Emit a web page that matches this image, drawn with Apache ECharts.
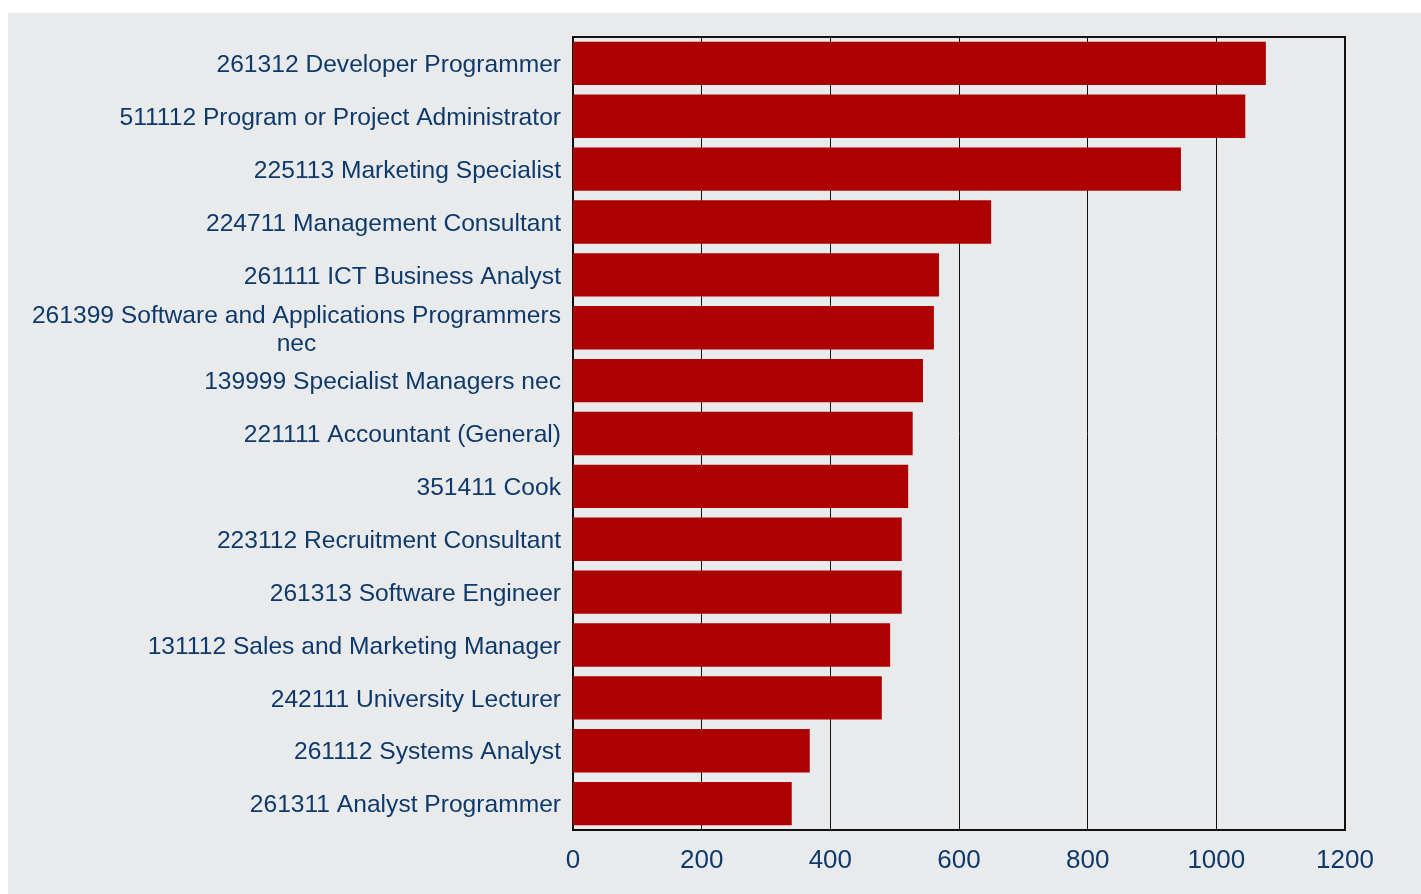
<!DOCTYPE html>
<html>
<head>
<meta charset="utf-8">
<script src="https://cdn.jsdelivr.net/npm/echarts@6/dist/echarts.min.js"></script>
<style>
  html, body { margin: 0; padding: 0; background: #ffffff; }
  #chart {
    position: absolute;
    left: 8px;
    top: 13px;
    width: 1413px;
    height: 881px;
    background: #e9eaec;
  }
</style>
</head>
<body>
<div id="chart"></div>
<script>
  // occupations, top to bottom
  const occupations = [
    '261312 Developer Programmer',
    '511112 Program or Project Administrator',
    '225113 Marketing Specialist',
    '224711 Management Consultant',
    '261111 ICT Business Analyst',
    '261399 Software and Applications Programmers\nnec',
    '139999 Specialist Managers nec',
    '221111 Accountant (General)',
    '351411 Cook',
    '223112 Recruitment Consultant',
    '261313 Software Engineer',
    '131112 Sales and Marketing Manager',
    '242111 University Lecturer',
    '261112 Systems Analyst',
    '261311 Analyst Programmer'
  ]
  const counts = [1077, 1045, 945, 650, 569, 561, 544, 528, 521, 511, 511, 493, 480, 368, 340]
  const xTicks = [0, 200, 400, 600, 800, 1000, 1200]

  const textColor = '#0e3a6b'
  const font = 'Liberation Sans, Arial, sans-serif'
  const mychart = echarts.init(document.getElementById('chart'))

  const options = {
    animation: false,
    grid: {
      left: 565,
      top: 24,
      right: 76,
      bottom: 64,
      show: true,
      borderColor: '#111111',
      borderWidth: 2,
      containLabel: false
    },
    xAxis: {
      type: 'value',
      min: xTicks[0],
      max: xTicks[xTicks.length - 1],
      interval: 200,
      axisLine: { show: true, lineStyle: { color: '#111111', width: 2 } },
      axisTick: { show: false },
      splitLine: { show: true, lineStyle: { color: '#111111', width: 1 } },
      axisLabel: {
        color: textColor,
        fontSize: 26,
        fontFamily: font,
        margin: 18,
        formatter: function (v) { return String(v) }
      }
    },
    yAxis: {
      type: 'category',
      data: occupations,
      inverse: true,
      axisLine: { show: true, lineStyle: { color: '#111111', width: 2 } },
      axisTick: { show: false },
      axisLabel: {
        color: textColor,
        fontSize: 24.6,
        fontFamily: font,
        margin: 12,
        lineHeight: 28,
        padding: [4, 0, 0, 0],
        formatter: function (v) {
          if (v.indexOf('\n') >= 0) {
            return v.split('\n').map(function (s) { return '{c|' + s + '}' }).join('\n')
          }
          return v
        },
        rich: {
          c: {
            color: textColor,
            fontSize: 24.6,
            fontFamily: font,
            lineHeight: 28,
            align: 'center'
          }
        }
      }
    },
    series: [
      {
        type: 'bar',
        data: counts,
        barCategoryGap: '18%',
        itemStyle: { color: '#ad0000' },
        z: 3
      }
    ]
  }

  mychart.setOption(options)
</script>
</body>
</html>
